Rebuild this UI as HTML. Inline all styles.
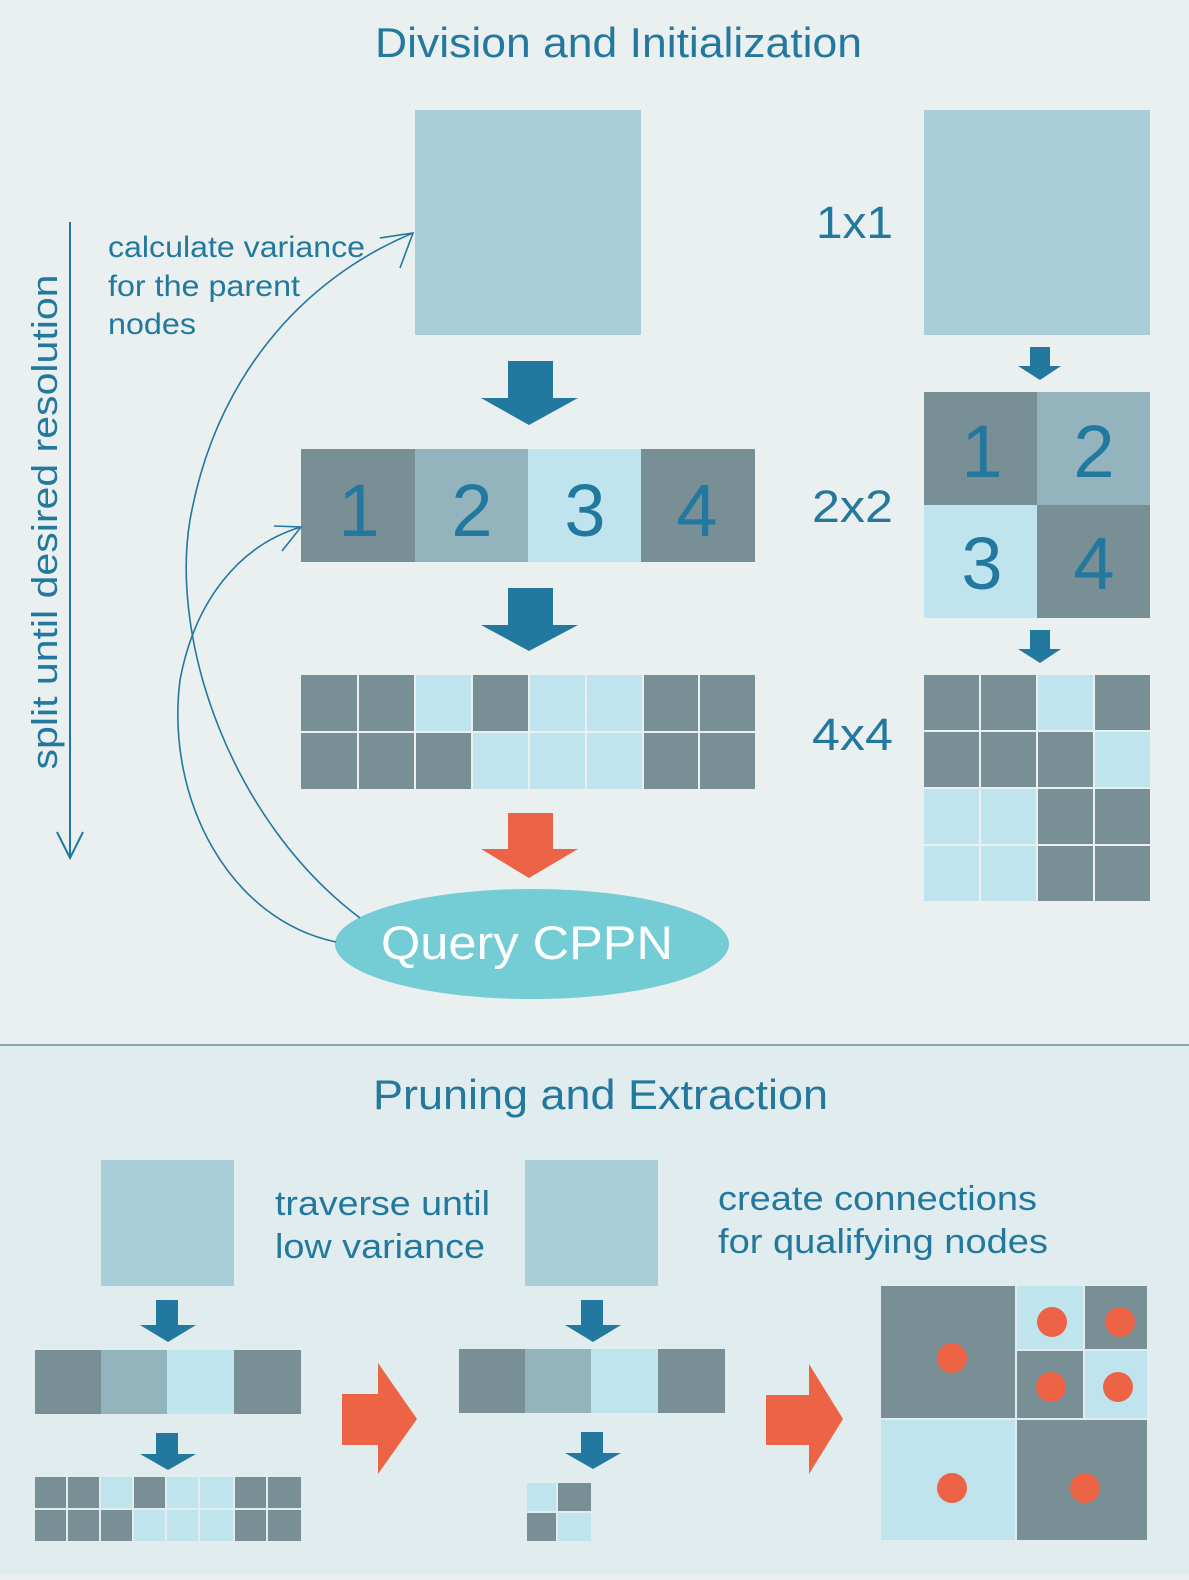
<!DOCTYPE html>
<html><head><meta charset="utf-8"><style>
html,body{margin:0;padding:0;}
body{width:1189px;height:1575px;overflow:hidden;background:#eaeff0;}
svg text{font-family:"Liberation Sans",sans-serif;}
</style></head><body>
<svg width="1189" height="1575" viewBox="0 0 1189 1575" xmlns="http://www.w3.org/2000/svg">
<rect x="0" y="0" width="1189" height="1045" fill="#eaeff0"/>
<rect x="0" y="1045" width="1189" height="530" fill="#e1ecef"/>
<line x1="0" y1="1045" x2="1189" y2="1045" stroke="#86a6ae" stroke-width="2"/>

<text x="375" y="57" font-size="42" fill="#23789e" textLength="487" lengthAdjust="spacingAndGlyphs">Division and Initialization</text>

<rect x="415" y="110" width="226" height="225" fill="#a9ced7"/>
<path d="M508 361 H553 V398 H578 L529 425 L481 398 H508 Z" fill="#22789e"/>
<path d="M508 588 H553 V625 H578 L529 651 L481 625 H508 Z" fill="#22789e"/>
<path d="M508 813 H553 V849 H578 L529 878 L481 849 H508 Z" fill="#ec6346"/>

<rect x="301" y="449" width="114" height="113" fill="#778f95"/>
<rect x="415" y="449" width="113" height="113" fill="#93b4bd"/>
<rect x="528" y="449" width="113" height="113" fill="#bfe4ee"/>
<rect x="641" y="449" width="114" height="113" fill="#778f95"/>
<g font-size="74" fill="#22789e" text-anchor="middle">
<text x="359" y="536">1</text><text x="472" y="536">2</text><text x="585" y="536">3</text><text x="697" y="536">4</text>
</g>

<g>
<rect x="301" y="675" width="56" height="56" fill="#778f95"/>
<rect x="359" y="675" width="55" height="56" fill="#778f95"/>
<rect x="416" y="675" width="55" height="56" fill="#bfe4ee"/>
<rect x="473" y="675" width="55" height="56" fill="#778f95"/>
<rect x="530" y="675" width="55" height="56" fill="#bfe4ee"/>
<rect x="587" y="675" width="55" height="56" fill="#bfe4ee"/>
<rect x="644" y="675" width="54" height="56" fill="#778f95"/>
<rect x="700" y="675" width="55" height="56" fill="#778f95"/>
<rect x="301" y="733" width="56" height="56" fill="#778f95"/>
<rect x="359" y="733" width="55" height="56" fill="#778f95"/>
<rect x="416" y="733" width="55" height="56" fill="#778f95"/>
<rect x="473" y="733" width="55" height="56" fill="#bfe4ee"/>
<rect x="530" y="733" width="55" height="56" fill="#bfe4ee"/>
<rect x="587" y="733" width="55" height="56" fill="#bfe4ee"/>
<rect x="644" y="733" width="54" height="56" fill="#778f95"/>
<rect x="700" y="733" width="55" height="56" fill="#778f95"/>
</g>

<ellipse cx="532" cy="944" rx="197" ry="55" fill="#74cdd5"/>
<text x="381" y="959" font-size="47" fill="#ffffff" textLength="292" lengthAdjust="spacingAndGlyphs">Query CPPN</text>

<path d="M360 918 C 230 820, 170 640, 190 520 C 215 380, 300 280, 413 233" fill="none" stroke="#22789e" stroke-width="1.6"/>
<path d="M380 238 L413 233 L400 268" fill="none" stroke="#22789e" stroke-width="1.6"/>
<path d="M336 942 C 230 920, 165 800, 180 680 C 195 600, 240 545, 301 527" fill="none" stroke="#22789e" stroke-width="1.6"/>
<path d="M274 526 L301 527 L282 551" fill="none" stroke="#22789e" stroke-width="1.6"/>

<g font-size="30" fill="#23789e">
<text x="108" y="257" textLength="257" lengthAdjust="spacingAndGlyphs">calculate variance</text>
<text x="108" y="296" textLength="192" lengthAdjust="spacingAndGlyphs">for the parent</text>
<text x="108" y="334" textLength="88" lengthAdjust="spacingAndGlyphs">nodes</text>
</g>

<text x="0" y="0" font-size="36" fill="#23789e" text-anchor="middle" textLength="495" lengthAdjust="spacingAndGlyphs" transform="translate(57 522) rotate(-90)">split until desired resolution</text>
<line x1="70" y1="222" x2="70" y2="858" stroke="#22789e" stroke-width="2"/>
<path d="M57 832 L70 858 L83 832" fill="none" stroke="#22789e" stroke-width="2"/>

<rect x="924" y="110" width="226" height="225" fill="#a9ced7"/>
<text x="816" y="238" font-size="45" fill="#23789e" textLength="77" lengthAdjust="spacingAndGlyphs">1x1</text>
<path d="M1030 347 H1050 V366 H1061 L1040 380 L1018 366 H1030 Z" fill="#22789e"/>
<rect x="924" y="392" width="113" height="113" fill="#778f95"/>
<rect x="1037" y="392" width="113" height="113" fill="#93b4bd"/>
<rect x="924" y="505" width="113" height="113" fill="#bfe4ee"/>
<rect x="1037" y="505" width="113" height="113" fill="#778f95"/>
<g font-size="74" fill="#22789e" text-anchor="middle">
<text x="982" y="477">1</text><text x="1094" y="477">2</text><text x="982" y="589">3</text><text x="1094" y="589">4</text>
</g>
<text x="812" y="522" font-size="45" fill="#23789e" textLength="81" lengthAdjust="spacingAndGlyphs">2x2</text>
<path d="M1030 630 H1050 V649 H1061 L1040 663 L1018 649 H1030 Z" fill="#22789e"/>
<text x="812" y="750" font-size="45" fill="#23789e" textLength="81" lengthAdjust="spacingAndGlyphs">4x4</text>
<g>
<rect x="924" y="675" width="55" height="55" fill="#778f95"/>
<rect x="981" y="675" width="55" height="55" fill="#778f95"/>
<rect x="1038" y="675" width="55" height="55" fill="#bfe4ee"/>
<rect x="1095" y="675" width="55" height="55" fill="#778f95"/>
<rect x="924" y="732" width="55" height="55" fill="#778f95"/>
<rect x="981" y="732" width="55" height="55" fill="#778f95"/>
<rect x="1038" y="732" width="55" height="55" fill="#778f95"/>
<rect x="1095" y="732" width="55" height="55" fill="#bfe4ee"/>
<rect x="924" y="789" width="55" height="55" fill="#bfe4ee"/>
<rect x="981" y="789" width="55" height="55" fill="#bfe4ee"/>
<rect x="1038" y="789" width="55" height="55" fill="#778f95"/>
<rect x="1095" y="789" width="55" height="55" fill="#778f95"/>
<rect x="924" y="846" width="55" height="55" fill="#bfe4ee"/>
<rect x="981" y="846" width="55" height="55" fill="#bfe4ee"/>
<rect x="1038" y="846" width="55" height="55" fill="#778f95"/>
<rect x="1095" y="846" width="55" height="55" fill="#778f95"/>
</g>

<text x="373" y="1109" font-size="42" fill="#23789e" textLength="455" lengthAdjust="spacingAndGlyphs">Pruning and Extraction</text>

<rect x="101" y="1160" width="133" height="126" fill="#a9ced7"/>
<path d="M156 1300 H178 V1325 H196 L168 1342 L140 1325 H156 Z" fill="#22789e"/>
<rect x="35" y="1350" width="66" height="64" fill="#778f95"/>
<rect x="101" y="1350" width="66" height="64" fill="#93b4bd"/>
<rect x="167" y="1350" width="67" height="64" fill="#bfe4ee"/>
<rect x="234" y="1350" width="67" height="64" fill="#778f95"/>
<path d="M156 1433 H178 V1454 H196 L168 1470 L140 1454 H156 Z" fill="#22789e"/>
<g>
<rect x="35" y="1477" width="31" height="31" fill="#778f95"/>
<rect x="68" y="1477" width="31" height="31" fill="#778f95"/>
<rect x="101" y="1477" width="31" height="31" fill="#bfe4ee"/>
<rect x="134" y="1477" width="31" height="31" fill="#778f95"/>
<rect x="167" y="1477" width="31" height="31" fill="#bfe4ee"/>
<rect x="200" y="1477" width="33" height="31" fill="#bfe4ee"/>
<rect x="235" y="1477" width="31" height="31" fill="#778f95"/>
<rect x="268" y="1477" width="33" height="31" fill="#778f95"/>
<rect x="35" y="1510" width="31" height="31" fill="#778f95"/>
<rect x="68" y="1510" width="31" height="31" fill="#778f95"/>
<rect x="101" y="1510" width="31" height="31" fill="#778f95"/>
<rect x="134" y="1510" width="31" height="31" fill="#bfe4ee"/>
<rect x="167" y="1510" width="31" height="31" fill="#bfe4ee"/>
<rect x="200" y="1510" width="33" height="31" fill="#bfe4ee"/>
<rect x="235" y="1510" width="31" height="31" fill="#778f95"/>
<rect x="268" y="1510" width="33" height="31" fill="#778f95"/>
</g>
<g font-size="34" fill="#23789e">
<text x="275" y="1215" textLength="215" lengthAdjust="spacingAndGlyphs">traverse until</text>
<text x="275" y="1258" textLength="210" lengthAdjust="spacingAndGlyphs">low variance</text>
</g>

<path d="M342 1394 H378 V1363 L417 1419 L378 1474 V1445 H342 Z" fill="#ec6346"/>

<rect x="525" y="1160" width="133" height="126" fill="#a9ced7"/>
<path d="M581 1300 H603 V1325 H621 L593 1342 L565 1325 H581 Z" fill="#22789e"/>
<rect x="459" y="1349" width="66" height="64" fill="#778f95"/>
<rect x="525" y="1349" width="66" height="64" fill="#93b4bd"/>
<rect x="591" y="1349" width="67" height="64" fill="#bfe4ee"/>
<rect x="658" y="1349" width="67" height="64" fill="#778f95"/>
<path d="M581 1432 H603 V1453 H621 L593 1469 L565 1453 H581 Z" fill="#22789e"/>
<rect x="527" y="1483" width="29" height="28" fill="#bfe4ee"/>
<rect x="558" y="1483" width="33" height="28" fill="#778f95"/>
<rect x="527" y="1513" width="29" height="28" fill="#778f95"/>
<rect x="558" y="1513" width="33" height="28" fill="#bfe4ee"/>

<g font-size="34" fill="#23789e">
<text x="718" y="1210" textLength="319" lengthAdjust="spacingAndGlyphs">create connections</text>
<text x="718" y="1253" textLength="330" lengthAdjust="spacingAndGlyphs">for qualifying nodes</text>
</g>

<path d="M766 1395 H809 V1364 L843 1419 L809 1474 V1445 H766 Z" fill="#ec6346"/>

<rect x="881" y="1286" width="134" height="132" fill="#778f95"/>
<rect x="1017" y="1286" width="66" height="63" fill="#bfe4ee"/>
<rect x="1085" y="1286" width="62" height="63" fill="#778f95"/>
<rect x="1017" y="1351" width="66" height="67" fill="#778f95"/>
<rect x="1085" y="1351" width="62" height="67" fill="#bfe4ee"/>
<rect x="881" y="1420" width="134" height="120" fill="#bfe4ee"/>
<rect x="1017" y="1420" width="130" height="120" fill="#778f95"/>
<g fill="#ec6346">
<circle cx="952" cy="1358" r="15"/>
<circle cx="1052" cy="1322" r="15"/>
<circle cx="1120" cy="1322" r="15"/>
<circle cx="1051" cy="1387" r="15"/>
<circle cx="1118" cy="1387" r="15"/>
<circle cx="952" cy="1488" r="15"/>
<circle cx="1085" cy="1488" r="15"/>
</g>
</svg>
</body></html>
